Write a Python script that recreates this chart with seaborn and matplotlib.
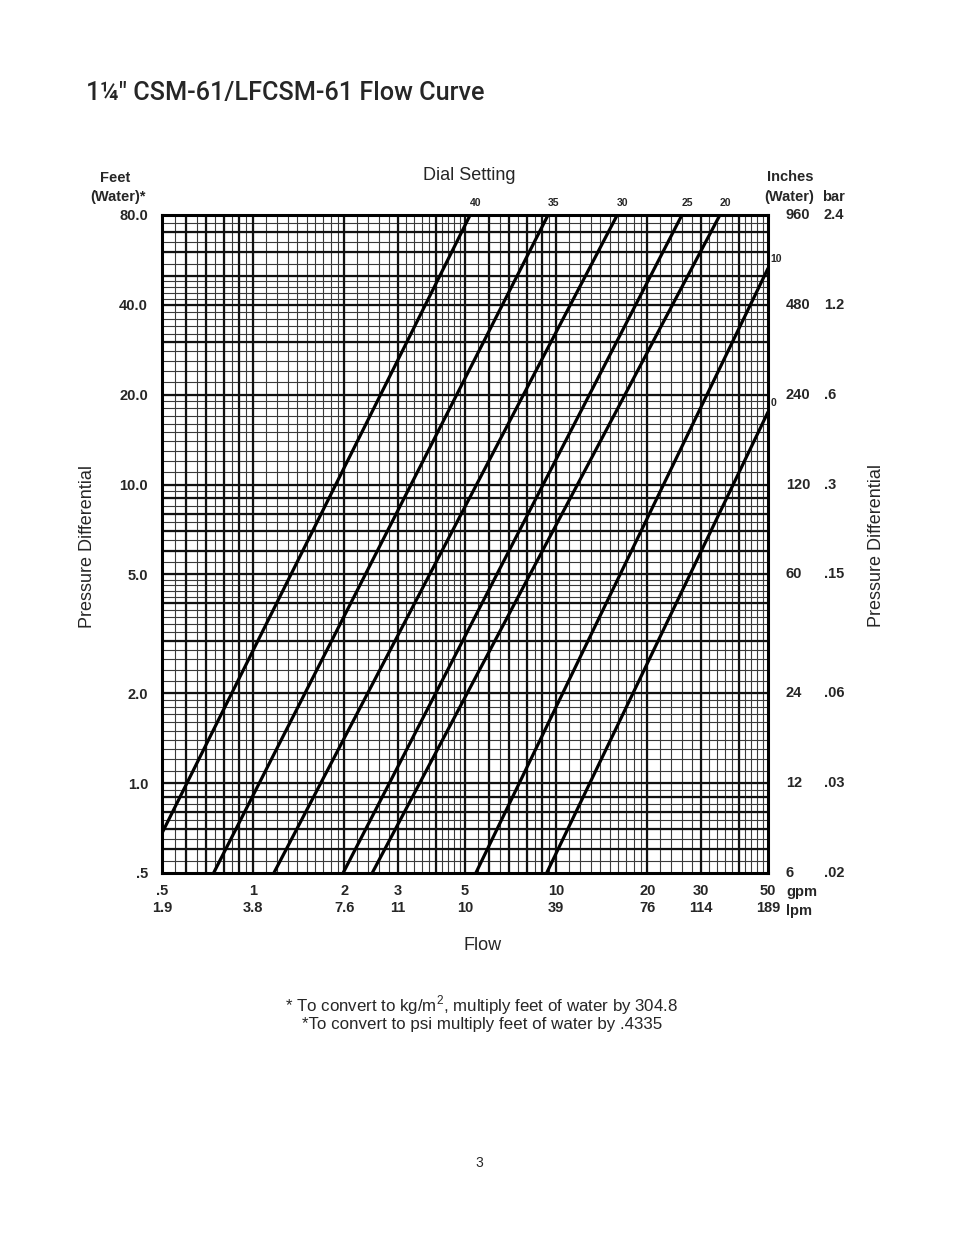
import numpy as np
import pandas as pd
import matplotlib
matplotlib.use("Agg")
import matplotlib.pyplot as plt
import seaborn as sns

# ---------------- data ----------------
settings = ["40", "35", "30", "25", "20", "10", "0"]
flow_start = [0.50, 0.74, 1.17, 1.98, 2.47, 5.43, 9.3]     # gpm
dp_start = [0.68, 0.50, 0.50, 0.50, 0.50, 0.50, 0.50]      # feet of water
flow_end = [5.2, 9.4, 15.9, 26.0, 34.7, 50.0, 50.0]
dp_end = [80.0, 80.0, 80.0, 80.0, 80.0, 53.0, 17.5]

gpm_ticks = [0.5, 1, 2, 3, 5, 10, 20, 30, 50]
gpm_labels = [".5", "1", "2", "3", "5", "10", "20", "30", "50"]
lpm_labels = ["1.9", "3.8", "7.6", "11", "10", "39", "76", "114", "189"]

feet_ticks = [0.5, 1, 2, 5, 10, 20, 40, 80]
feet_labels = [".5", "1.0", "2.0", "5.0", "10.0", "20.0", "40.0", "80.0"]
inch_labels = ["6", "12", "24", "60", "120", "240", "480", "960"]
bar_labels = [".02", ".03", ".06", ".15", ".3", ".6", "1.2", "2.4"]

rows = []
for s, x0, y0, x1, y1 in zip(settings, flow_start, dp_start, flow_end, dp_end):
    rows.append({"setting": s, "flow": x0, "dp": y0})
    rows.append({"setting": s, "flow": x1, "dp": y1})
df = pd.DataFrame(rows)

# ---------------- style ----------------
sns.set_theme(style="white")
plt.rcParams["font.family"] = ["Liberation Sans", "DejaVu Sans"]
plt.rcParams["mathtext.fontset"] = "custom"
plt.rcParams["mathtext.rm"] = "Liberation Sans"

W, H = 954, 1235
fig = plt.figure(figsize=(W / 100, H / 100), dpi=100)
fig.patch.set_facecolor("white")


def px(x, y):
    return x / W, 1 - y / H


L, R, T, B = 162, 768, 215, 873
ax = fig.add_axes([L / W, 1 - B / H, (R - L) / W, (B - T) / H])
ax.set_facecolor("white")
ax.set_xscale("log")
ax.set_yscale("log")
ax.set_xlim(0.5, 50)
ax.set_ylim(0.5, 80)

# ---------------- log-paper grid ----------------
def grid_vals(lo, hi):
    heavy, light = [], []
    for d in [0.1, 1, 10]:
        for v in np.arange(1.0, 2.0, 0.1):
            light.append(d * v)
        for v in np.arange(2.0, 5.0, 0.2):
            light.append(d * v)
        for v in np.arange(5.0, 10.0, 0.5):
            light.append(d * v)
        for v in range(1, 10):
            heavy.append(d * v)
    heavy = [v for v in heavy if lo * 1.001 < v < hi * 0.999]
    light = [v for v in light if lo * 1.001 < v < hi * 0.999]
    return heavy, light


xh, xl = grid_vals(0.5, 50)
yh, yl = grid_vals(0.5, 80)
ax.vlines(xl, 0, 1, transform=ax.get_xaxis_transform(), colors="#3a3a3a", lw=0.8, zorder=1)
ax.hlines(yl, 0, 1, transform=ax.get_yaxis_transform(), colors="#3a3a3a", lw=0.8, zorder=1)
ax.vlines(xh, 0, 1, transform=ax.get_xaxis_transform(), colors="#111111", lw=1.6, zorder=1)
ax.hlines(yh, 0, 1, transform=ax.get_yaxis_transform(), colors="#111111", lw=1.6, zorder=1)

# ---------------- flow curves ----------------
sns.lineplot(data=df, x="flow", y="dp", units="setting", estimator=None,
             color="black", lw=2.3, ax=ax, zorder=3, legend=False)

for s, x1, y1 in zip(settings, flow_end, dp_end):
    if y1 >= 80:
        ax.annotate(s, (x1, 80), xytext=(4, 5), textcoords="offset points",
                    ha="center", va="bottom", fontsize=7.5, fontweight="bold")
    else:
        ax.annotate(s, (50, y1), xytext=(2, 3), textcoords="offset points",
                    ha="left", va="bottom", fontsize=7.5, fontweight="bold")

for sp in ax.spines.values():
    sp.set_visible(True)
    sp.set_color("black")
    sp.set_linewidth(2.2)

# ---------------- ticks ----------------
FS = 10.5
ax.xaxis.set_minor_locator(matplotlib.ticker.NullLocator())
ax.yaxis.set_minor_locator(matplotlib.ticker.NullLocator())
ax.set_xticks(gpm_ticks)
ax.set_xticklabels([f"{g}\n{l}" for g, l in zip(gpm_labels, lpm_labels)],
                   fontsize=FS, fontweight="bold", linespacing=1.3)
ax.set_yticks(feet_ticks)
ax.set_yticklabels(feet_labels, fontsize=FS, fontweight="bold")
ax.tick_params(axis="x", length=0, pad=8)
ax.tick_params(axis="y", length=0, pad=10)
ax.set_xlabel("")
ax.set_ylabel("")

# right-hand scales
for f, il, bl in zip(feet_ticks, inch_labels, bar_labels):
    ax.text((786 - L) / (R - L), f, il, transform=ax.get_yaxis_transform(),
            ha="left", va="center", fontsize=FS, fontweight="bold")
    ax.text((824 - L) / (R - L), f, bl, transform=ax.get_yaxis_transform(),
            ha="left", va="center", fontsize=FS, fontweight="bold")

fig.text(*px(786, 892), "gpm", ha="left", va="center", fontsize=FS, fontweight="bold")
fig.text(*px(786, 911), "lpm", ha="left", va="center", fontsize=FS, fontweight="bold")

# headers
fig.text(*px(115, 178), "Feet", ha="center", va="center", fontsize=FS, fontweight="bold")
fig.text(*px(118, 197), "(Water)*", ha="center", va="center", fontsize=FS, fontweight="bold")
fig.text(*px(790, 177), "Inches", ha="center", va="center", fontsize=FS, fontweight="bold")
fig.text(*px(789, 197), "(Water)", ha="center", va="center", fontsize=FS, fontweight="bold")
fig.text(*px(834, 197), "bar", ha="center", va="center", fontsize=FS, fontweight="bold")
fig.text(*px(469, 175), "Dial Setting", ha="center", va="center", fontsize=13)
fig.text(*px(483, 945), "Flow", ha="center", va="center", fontsize=13)
fig.text(*px(88, 547), "Pressure Differential", ha="center", va="center",
         rotation=90, fontsize=13)
fig.text(*px(877, 545), "Pressure Differential", ha="center", va="center",
         rotation=90, fontsize=13)

# title and notes
fig.text(*px(86, 93), "1\u00bc\" CSM-61/LFCSM-61 Flow Curve", ha="left", va="center",
         fontsize=18.2, family=["Roboto", "Liberation Sans", "DejaVu Sans"],
         fontweight="medium")
fig.text(*px(482, 1005), "* To convert to kg/m$^2$, multiply feet of water by 304.8",
         ha="center", va="center", fontsize=12.2)
fig.text(*px(482, 1024), "*To convert to psi multiply feet of water by .4335",
         ha="center", va="center", fontsize=12.2)
fig.text(*px(479, 1163), "3", ha="center", va="center", fontsize=10)

fig.savefig("out.png", dpi=100, facecolor="white")
